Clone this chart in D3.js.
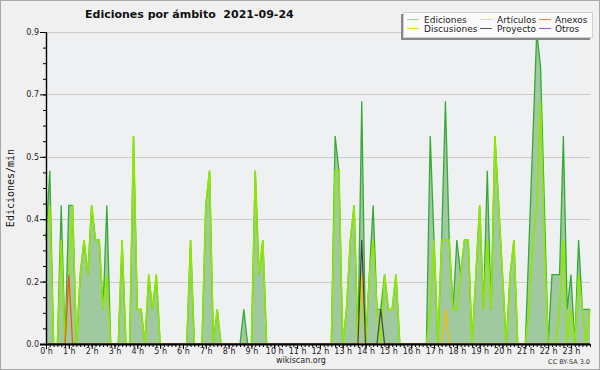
<!DOCTYPE html>
<html>
<head>
<meta charset="utf-8">
<script src="https://cdn.jsdelivr.net/npm/d3@7"></script>
<style>
  body { margin: 0; background: #f0f0f0; }
  svg { display: block; font-family: "DejaVu Sans", sans-serif; }
</style>
</head>
<body>
<div id="chart"></div>
<script>
// one value every 10 minutes, 6 per hour (edits per minute)
var ediciones = [
  0.3,0.5,0,0,0.4,0,   0.4,0.4,0,0.2,0.3,0.2,   0.4,0.3,0.3,0.1,0.4,0,   0,0,0.3,0,0,0.6,
  0.1,0.1,0,0.2,0.1,0.2,   0,0,0,0,0,0,   0,0,0.3,0,0,0,   0.4,0.5,0,0.1,0,0,
  0,0,0,0,0.1,0,   0,0.5,0.2,0.3,0,0,   0,0,0,0,0,0,   0,0,0,0,0,0,
  0,0,0,0,0.6,0.5,   0,0.1,0.3,0.4,0,0.7,   0,0.2,0.4,0.1,0.1,0.2,   0.1,0.1,0.2,0,0,0,
  0,0,0,0,0,0.6,   0.3,0,0.3,0.7,0.3,0.1,   0.3,0.2,0.3,0.3,0,0.2,   0.4,0.1,0.5,0.1,0.6,0.4,
  0.2,0,0.2,0.3,0,0,   0,0.3,0.6,0.9,0.8,0.4,   0,0.2,0.2,0.2,0.6,0.1,   0.2,0,0.3,0.1,0.1,0.1
];
var articulos = [
  0.3,0.4,0,0,0.3,0,   0.2,0.4,0,0.2,0.3,0.2,   0.4,0.3,0.3,0.1,0.2,0,   0,0,0.3,0,0,0.6,
  0.1,0.1,0,0.2,0.1,0.2,   0,0,0,0,0,0,   0,0,0.3,0,0,0,   0.4,0.5,0,0.1,0,0,
  0,0,0,0,0,0,   0,0.5,0.2,0.3,0,0,   0,0,0,0,0,0,   0,0,0,0,0,0,
  0,0,0,0,0.5,0.5,   0,0.1,0.3,0.4,0,0.2,   0,0.2,0.3,0.1,0,0.2,   0.1,0.1,0.2,0,0,0,
  0,0,0,0,0,0.1,   0.3,0,0.3,0.3,0.3,0.1,   0.1,0.2,0.3,0.3,0,0.2,   0.4,0.1,0.3,0.1,0.6,0.4,
  0.2,0,0.2,0.3,0,0,   0,0.1,0.3,0.4,0.7,0.3,   0,0,0,0.1,0.3,0,   0.1,0,0.2,0.1,0,0.1
];
var anexos = [
  0,0,0,0,0,0,   0.2,0,0,0,0,0,   0,0,0,0,0,0,   0,0,0,0,0,0,
  0,0,0,0,0,0,   0,0,0,0,0,0,   0,0,0,0,0,0,   0,0,0,0,0,0,
  0,0,0,0,0,0,   0,0,0,0,0,0,   0,0,0,0,0,0,   0,0,0,0,0,0,
  0,0,0,0,0,0,   0,0,0,0,0,0,   0,0,0,0,0,0,   0,0,0,0,0,0,
  0,0,0,0,0,0,   0,0,0,0,0,0,   0,0,0,0,0,0,   0,0,0,0,0,0,
  0,0,0,0,0,0,   0,0,0,0,0,0,   0,0,0,0,0,0,   0,0,0,0,0,0
];
var discusiones = [
  0,0,0,0,0,0,   0,0,0,0,0,0,   0,0,0,0,0,0,   0,0,0,0,0,0,
  0,0,0,0,0,0,   0,0,0,0,0,0,   0,0,0,0,0,0,   0,0,0,0,0,0,
  0,0,0,0,0,0,   0,0,0,0,0,0,   0,0,0,0,0,0,   0,0,0,0,0,0,
  0,0,0,0,0,0,   0,0,0,0,0,0.2,   0,0,0,0,0,0,   0,0,0,0,0,0,
  0,0,0,0,0,0,   0,0,0,0.1,0,0,   0,0,0,0,0,0,   0,0,0,0,0,0,
  0,0,0,0,0,0,   0,0,0,0,0,0,   0,0,0,0,0,0,   0,0,0,0,0,0
];
var proyecto = [
  0,0,0,0,0,0,   0,0,0,0,0,0,   0,0,0,0,0,0,   0,0,0,0,0,0,
  0,0,0,0,0,0,   0,0,0,0,0,0,   0,0,0,0,0,0,   0,0,0,0,0,0,
  0,0,0,0,0,0,   0,0,0,0,0,0,   0,0,0,0,0,0,   0,0,0,0,0,0,
  0,0,0,0,0,0,   0,0,0,0,0,0.3,   0,0,0,0,0.1,0,   0,0,0,0,0,0,
  0,0,0,0,0,0,   0,0,0,0,0,0,   0,0,0,0,0,0,   0,0,0,0,0,0,
  0,0,0,0,0,0,   0,0,0,0,0,0,   0,0,0,0,0,0,   0,0,0,0,0,0
];
var otros = [];   // nothing visible for this day

var hourLabels = ["0 h","1 h","2 h","3 h","4 h","5 h","6 h","7 h","8 h","9 h","10 h","11 h",
  "12 h","13 h","14 h","15 h","16 h","17 h","18 h","19 h","20 h","21 h","22 h","23 h"];
var yTicks = [0, 0.18, 0.36, 0.54, 0.72, 0.9];

var legendItems = [
  {name: "Ediciones",   color: "#8fd88f", col: 0, row: 0},
  {name: "Artículos",   color: "#c8f060", col: 1, row: 0},
  {name: "Anexos",      color: "#ff7744", col: 2, row: 0},
  {name: "Discusiones", color: "#ffcc40", col: 0, row: 1},
  {name: "Proyecto",    color: "#555555", col: 1, row: 1},
  {name: "Otros",       color: "#9955ee", col: 2, row: 1}
];

var W = 600, H = 370;
var svg = d3.select("#chart").append("svg")
  .attr("width", W)
  .attr("height", H);

svg.append("rect")
  .attr("x", 0.5).attr("y", 0.5)
  .attr("width", W - 1).attr("height", H - 1)
  .style("fill", "#f0f0f0")
  .style("stroke", "#a8a8a8");

var x = d3.scaleLinear().domain([0, 143]).range([46, 590]);
var y = d3.scaleLinear().domain([0, 0.9]).range([344, 32]);

// plot background
svg.append("rect")
  .attr("x", x(0)).attr("y", y(0.9))
  .attr("width", x(143) - x(0)).attr("height", y(0) - y(0.9))
  .style("fill", "#eff0f2");

// grid
svg.selectAll("line.grid")
  .data(yTicks.slice(1))
  .enter().append("line")
  .attr("class", "grid")
  .attr("x1", x(0)).attr("x2", x(143))
  .attr("y1", d => Math.round(y(d)) + 0.5)
  .attr("y2", d => Math.round(y(d)) + 0.5)
  .style("stroke", "#cccccc");

// edits area + line
svg.append("path")
  .datum(ediciones)
  .attr("d", d3.area().x((d, i) => x(i)).y0(y(0)).y1(d => y(d)))
  .style("fill", "#a0c9a0");

var line = d3.line().x((d, i) => x(i)).y(d => y(d));

svg.append("path")
  .datum(ediciones)
  .attr("d", line)
  .style("fill", "none")
  .style("stroke", "#35aa35")
  .style("stroke-width", 1.3);

var series = [
  {data: articulos, color: "#8fe800", w: 1.6},
  {data: discusiones, color: "#f0c000", w: 1.3},
  {data: anexos, color: "#f05a18", w: 1.3},
  {data: proyecto, color: "#444444", w: 1.2},
  {data: otros, color: "#9040f0", w: 1.2}
];

series.forEach(function(s) {
  if (!s.data.length) return;
  svg.append("path")
    .datum(s.data)
    .attr("d", line)
    .style("fill", "none")
    .style("stroke", s.color)
    .style("stroke-width", s.w);
});

// y axis
var yAxis = svg.append("g")
  .attr("transform", "translate(" + x(0) + ",0)")
  .call(d3.axisLeft(y).tickValues(yTicks).tickFormat(d3.format(".1f")).tickSize(6).tickPadding(1));
var yMinor = svg.append("g")
  .attr("transform", "translate(" + x(0) + ",0)")
  .call(d3.axisLeft(y).tickValues(d3.range(0, 0.9001, 0.045)).tickFormat("").tickSize(3));

// x axis
var xAxis = svg.append("g")
  .attr("transform", "translate(0," + y(0) + ")")
  .call(d3.axisBottom(x).tickValues(hourLabels.map((d, i) => i * 6))
    .tickFormat((d, i) => hourLabels[i]).tickSize(5).tickPadding(-1));
var xMinor = svg.append("g")
  .attr("transform", "translate(0," + y(0) + ")")
  .call(d3.axisBottom(x).tickValues(d3.range(0, 144)).tickFormat("").tickSize(3));

[yAxis, yMinor, xAxis, xMinor].forEach(function(g) {
  g.select(".domain").remove();
  g.selectAll("line").style("stroke", "#000");
  g.selectAll("text").style("font-family", "DejaVu Sans").style("font-size", "8px").style("fill", "#222");
});

svg.append("line")
  .attr("x1", x(0) - 6).attr("x2", x(143))
  .attr("y1", y(0) + 0.5).attr("y2", y(0) + 0.5)
  .style("stroke", "#000").style("stroke-width", 2);
svg.append("line")
  .attr("x1", x(0) + 0.5).attr("x2", x(0) + 0.5)
  .attr("y1", y(0.9)).attr("y2", y(0) + 1)
  .style("stroke", "#000").style("stroke-width", 1.4);

// title
svg.append("text")
  .attr("x", 85).attr("y", 18)
  .style("white-space", "pre")
  .style("font-weight", "bold")
  .style("font-size", "11px")
  .style("fill", "#111")
  .text("Ediciones por ámbito  2021-09-24");

// y label
svg.append("text")
  .attr("transform", "translate(14," + (y(0.45)) + ") rotate(-90)")
  .attr("text-anchor", "middle")
  .style("font-family", "DejaVu Sans Mono")
  .style("font-size", "10px")
  .style("fill", "#111")
  .text("Ediciones/min");

svg.append("text")
  .attr("x", 301).attr("y", 363)
  .attr("text-anchor", "middle")
  .style("font-size", "8px")
  .style("fill", "#222")
  .text("wikiscan.org");

svg.append("text")
  .attr("x", 590).attr("y", 364)
  .attr("text-anchor", "end")
  .style("font-size", "6.5px")
  .style("fill", "#333")
  .text("CC BY-SA 3.0");

// legend
var lg = svg.append("g");
lg.append("rect")
  .attr("x", 401).attr("y", 14).attr("width", 189).attr("height", 26)
  .style("fill", "#888");
lg.append("rect")
  .attr("x", 403.5).attr("y", 12.5).attr("width", 189).attr("height", 25)
  .style("fill", "#fafafa").style("stroke", "#cfcfcf");

var colX = [407, 480, 539];
var textX = [424, 497, 555];
var rowY = [19.5, 28.5];

lg.selectAll("line.key")
  .data(legendItems)
  .enter().append("line")
  .attr("class", "key")
  .attr("x1", d => colX[d.col]).attr("x2", d => colX[d.col] + 12)
  .attr("y1", d => rowY[d.row]).attr("y2", d => rowY[d.row])
  .style("stroke", d => d.color)
  .style("stroke-width", 1);

lg.selectAll("text.key")
  .data(legendItems)
  .enter().append("text")
  .attr("class", "key")
  .attr("x", d => textX[d.col])
  .attr("y", d => rowY[d.row] + 3.3)
  .style("font-size", "9px")
  .style("fill", "#222")
  .text(d => d.name);
</script>
</body>
</html>
